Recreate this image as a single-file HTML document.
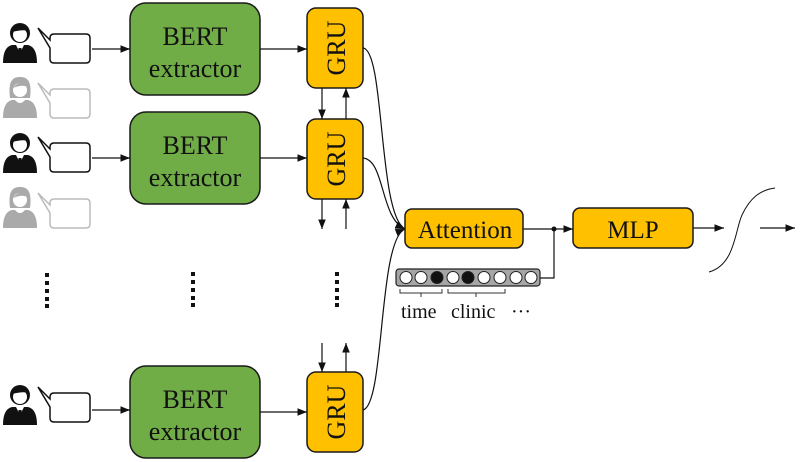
<!DOCTYPE html>
<html><head><meta charset="utf-8"><style>
html,body{margin:0;padding:0;background:#fff}
svg{display:block}
text{font-family:"Liberation Serif",serif;fill:#111}
</style></head><body>
<svg width="800" height="462" viewBox="0 0 800 462" xmlns="http://www.w3.org/2000/svg">
<defs>
<marker id="a" viewBox="0 0 10 10" refX="10" refY="5" markerWidth="8" markerHeight="8" orient="auto"><path d="M0,1 L10,5 L0,9 z" fill="#111"/></marker>
<g id="man">
<path d="M-17,28 Q-17,12 -8,10 L8,10 Q17,12 17,28 z"/>
<circle cx="0" cy="-2" r="10"/>
<circle cx="0" cy="0" r="7" fill="#fff"/>
<path d="M-8,-3 Q0,-15 9,-4 Q3,-6 -8,-3 z"/>
<path d="M-4,10 L0,18 L4,10 z" fill="#fff"/>
<path d="M-1.5,13 L1.5,13 L2,24 L0,27 L-2,24 z"/>
</g>
<g id="woman">
<path d="M-17,28 Q-17,12 -8,10 L8,10 Q17,12 17,28 z"/>
<path d="M-10,8 Q-13,-14 0,-13 Q13,-14 10,8 z"/>
<circle cx="0" cy="0" r="7" fill="#fff"/>
<path d="M-7,-2 Q0,-12 8,-3 Q2,-6 -7,-2 z"/>
<path d="M-5,10 Q0,16 5,10 z" fill="#fff"/>
</g>
</defs>

<g fill="#111"><use href="#man" x="20" y="35"/><use href="#man" x="20" y="145"/><use href="#man" x="20" y="397"/></g>
<g fill="#aaa"><use href="#woman" x="20" y="90"/><use href="#woman" x="20" y="200"/></g>
<g fill="#fff" stroke-width="1.5">
<g stroke="#111">
<path d="M54,34 L86,34 Q90,34 90,38 L90,59 Q90,63 86,63 L54,63 Q50,63 50,59 L50,48 L38,28 L50,40 L50,38 Q50,34 54,34 z"/>
<path d="M54,143 L86,143 Q90,143 90,147 L90,168 Q90,172 86,172 L54,172 Q50,172 50,168 L50,157 L38,137 L50,149 L50,147 Q50,143 54,143 z"/>
<path d="M54,393 L86,393 Q90,393 90,397 L90,418 Q90,422 86,422 L54,422 Q50,422 50,418 L50,407 L38,387 L50,399 L50,397 Q50,393 54,393 z"/>
</g>
<g stroke="#bbb">
<path d="M54,89 L86,89 Q90,89 90,93 L90,114 Q90,118 86,118 L54,118 Q50,118 50,114 L50,103 L38,83 L50,95 L50,93 Q50,89 54,89 z"/>
<path d="M54,199 L86,199 Q90,199 90,203 L90,224 Q90,228 86,228 L54,228 Q50,228 50,224 L50,213 L38,193 L50,205 L50,203 Q50,199 54,199 z"/>
</g>
</g>

<g fill="#70ad47" stroke="#1a1a1a" stroke-width="1.5">
<rect x="130" y="3" width="130" height="92" rx="16"/>
<rect x="130" y="112" width="130" height="92" rx="16"/>
<rect x="130" y="366" width="130" height="92" rx="16"/>
</g>
<g font-size="26" text-anchor="middle">
<text x="195" y="45">BERT</text><text x="195" y="77">extractor</text>
<text x="195" y="154">BERT</text><text x="195" y="186">extractor</text>
<text x="195" y="408">BERT</text><text x="195" y="440">extractor</text>
</g>

<g fill="#ffc000" stroke="#1a1a1a" stroke-width="1.5">
<rect x="307" y="8" width="56" height="80" rx="9"/>
<rect x="307" y="119" width="56" height="80" rx="9"/>
<rect x="307" y="372" width="56" height="80" rx="9"/>
</g>
<g font-size="26" text-anchor="middle">
<text transform="translate(345,48) rotate(-90)">GRU</text>
<text transform="translate(345,159) rotate(-90)">GRU</text>
<text transform="translate(345,412) rotate(-90)">GRU</text>
</g>

<g stroke="#111" stroke-width="1.2" fill="none" marker-end="url(#a)">
<line x1="92" y1="49" x2="130" y2="49"/>
<line x1="92" y1="158" x2="130" y2="158"/>
<line x1="92" y1="410" x2="130" y2="410"/>
<line x1="260" y1="49" x2="307" y2="49"/>
<line x1="260" y1="158" x2="307" y2="158"/>
<line x1="260" y1="412" x2="307" y2="412"/>
<line x1="322" y1="88" x2="322" y2="119"/>
<line x1="346" y1="119" x2="346" y2="88"/>
<line x1="322" y1="199" x2="322" y2="229"/>
<line x1="346" y1="229" x2="346" y2="199"/>
<line x1="322" y1="343" x2="322" y2="372"/>
<line x1="346" y1="372" x2="346" y2="343"/>
<path d="M363,48 C385,50 378,215 405,229"/>
<path d="M363,158 C385,160 380,218 405,229"/>
<path d="M363,410 C385,405 378,240 405,229"/>
<line x1="523" y1="229" x2="573" y2="229"/>
<line x1="693" y1="228" x2="724" y2="228"/>
<line x1="760" y1="228" x2="795" y2="228"/>
</g>
<circle cx="554" cy="229" r="2.5" fill="#111"/>
<polyline points="540,278 554,278 554,229" stroke="#111" stroke-width="1.2" fill="none"/>
<path d="M709,272 C735,265 735,230 742,215 C750,198 760,190 775,188" stroke="#111" stroke-width="1" fill="none"/>

<g fill="#111">
<rect x="45" y="273" width="4" height="4"/><rect x="45" y="281" width="4" height="4"/><rect x="45" y="289" width="4" height="4"/><rect x="45" y="297" width="4" height="4"/><rect x="45" y="304" width="4" height="4"/>
<rect x="191" y="272" width="4" height="4"/><rect x="191" y="280" width="4" height="4"/><rect x="191" y="288" width="4" height="4"/><rect x="191" y="296" width="4" height="4"/><rect x="191" y="303" width="4" height="4"/>
<rect x="335" y="272" width="4" height="4"/><rect x="335" y="280" width="4" height="4"/><rect x="335" y="288" width="4" height="4"/><rect x="335" y="296" width="4" height="4"/><rect x="335" y="303" width="4" height="4"/>
</g>

<g fill="#ffc000" stroke="#1a1a1a" stroke-width="1.5">
<rect x="405" y="209" width="118" height="39" rx="7"/>
<rect x="573" y="208" width="120" height="40" rx="7"/>
</g>
<g font-size="25" text-anchor="middle">
<text x="465" y="238">Attention</text>
<text x="633" y="238">MLP</text>
</g>

<rect x="396" y="269" width="144" height="17" rx="3" fill="#a6a6a6" stroke="#222" stroke-width="1.2"/>
<g stroke="#222" stroke-width="1">
<circle cx="406" cy="277.5" r="6" fill="#fff"/>
<circle cx="421" cy="277.5" r="6" fill="#fff"/>
<circle cx="437" cy="277.5" r="6" fill="#111"/>
<circle cx="453" cy="277.5" r="6" fill="#fff"/>
<circle cx="468" cy="277.5" r="6" fill="#111"/>
<circle cx="484" cy="277.5" r="6" fill="#fff"/>
<circle cx="500" cy="277.5" r="6" fill="#fff"/>
<circle cx="516" cy="277.5" r="6" fill="#fff"/>
<circle cx="531" cy="277.5" r="6" fill="#fff"/>
</g>
<g stroke="#333" stroke-width="1" fill="none">
<polyline points="400,289 400,293 442,293 442,289"/><line x1="421" y1="293" x2="421" y2="297"/>
<polyline points="448,289 448,293 505,293 505,289"/><line x1="476" y1="293" x2="476" y2="297"/>
</g>
<g font-size="20">
<text x="401" y="318">time</text>
<text x="451" y="318">clinic</text>
<text x="511" y="318">···</text>
</g>
</svg>
</body></html>
